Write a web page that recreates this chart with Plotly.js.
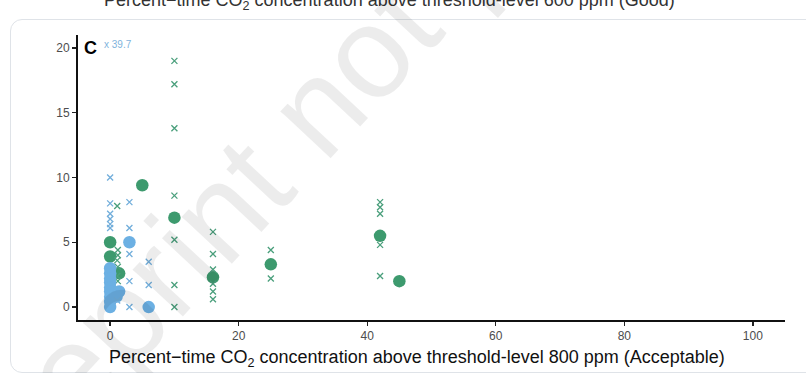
<!DOCTYPE html>
<html>
<head>
<meta charset="utf-8">
<script src="https://cdn.plot.ly/plotly-3.0.1.min.js"></script>
<style>
  html, body { margin: 0; padding: 0; background: #ffffff; }
  #wrap { position: relative; width: 806px; height: 373px; overflow: hidden; }
  #card { position: absolute; left: 10px; top: 19px; width: 830px; height: 352px;
          border: 1px solid #dfe3e8; border-radius: 12px; background: #ffffff; }
  #chart { position: absolute; left: 0; top: 0; width: 806px; height: 373px; }
</style>
</head>
<body>
<div id="wrap">
  <div id="card"></div>
  <div id="chart"></div>
</div>
<script>
// ---- data ----
// green crosses
const greenCrossX = [10, 10, 10, 10, 10, 10, 10,
                     16, 16, 16, 16, 16, 16,
                     25, 25,
                     42, 42, 42, 42, 42,
                     1.1, 1.2, 1.2, 1.1, 1.2, 1.1, 1.2, 1.0];
const greenCrossY = [19.0, 17.2, 13.8, 8.6, 5.2, 1.7, 0.0,
                     5.8, 4.1, 2.9, 1.8, 1.2, 0.6,
                     4.4, 2.2,
                     8.1, 7.7, 7.2, 4.8, 2.4,
                     7.8, 4.4, 4.0, 3.6, 3.1, 2.4, 2.0, 0.9];
// blue crosses
const blueCrossX = [0, 0, 0, 0, 0, 0,
                    1.1,
                    3, 3, 3, 3, 3,
                    6, 6];
const blueCrossY = [10.0, 8.0, 7.2, 6.8, 6.4, 6.1,
                    0.5,
                    8.1, 6.1, 4.1, 2.0, 0.0,
                    3.5, 1.7];
// green circles
const greenDotX = [0, 0, 1.4, 5, 10, 16, 25, 42, 45];
const greenDotY = [5.0, 3.9, 2.6, 9.4, 6.9, 2.3, 3.3, 5.5, 2.0];
// blue circles
const blueDotX = [0, 0, 0, 0, 0, 0, 0, 0, 0, 1.4, 1.0, 3, 6];
const blueDotY = [3.0, 2.6, 2.2, 1.9, 1.5, 1.2, 0.8, 0.4, 0.0, 1.2, 0.8, 5.0, 0.0];
// off-scale value noted at top
const offscaleX = 0;
const offscaleValue = 39.7;

const xTicks = [0, 20, 40, 60, 80, 100];
const yTicks = [0, 5, 10, 15, 20];

// ---- styling ----
const GREEN = '#3d9a6e';
const GREEN_X = '#4a9f7c';
const BLUE = '#6cb0e3';
const BLUE_X = '#72aedb';
const FONT = 'Liberation Sans, Arial, sans-serif';

const traces = [
  { x: greenDotX, y: greenDotY, type: 'scatter', mode: 'markers', name: 'green dots',
    marker: { symbol: 'circle', size: 12.5, color: GREEN, line: { width: 0 } } },
  { x: greenCrossX, y: greenCrossY, type: 'scatter', mode: 'markers', name: 'green crosses',
    marker: { symbol: 'x-thin', size: 6, color: GREEN_X, line: { width: 1.3, color: GREEN_X } } },
  { x: blueDotX, y: blueDotY, type: 'scatter', mode: 'markers', name: 'blue dots',
    marker: { symbol: 'circle', size: 12.5, color: BLUE, line: { width: 0 } } },
  { x: blueCrossX, y: blueCrossY, type: 'scatter', mode: 'markers', name: 'blue crosses',
    marker: { symbol: 'x-thin', size: 6, color: BLUE_X, line: { width: 1.3, color: BLUE_X } } }
];

const tickFont = { family: FONT, size: 12, color: '#4d4d4d' };

const layout = {
  width: 806, height: 373,
  margin: { l: 78, r: 21, t: 35, b: 53 },
  paper_bgcolor: 'rgba(0,0,0,0)',
  plot_bgcolor: 'rgba(0,0,0,0)',
  showlegend: false,
  xaxis: {
    range: [-5, 105], tickvals: xTicks, ticktext: xTicks.map(String),
    showgrid: false, zeroline: false, showline: true, linecolor: '#111', linewidth: 2,
    ticks: 'outside', ticklen: 4, tickcolor: '#222', tickwidth: 1.3,
    tickfont: tickFont, fixedrange: true
  },
  yaxis: {
    range: [-1, 21], tickvals: yTicks, ticktext: yTicks.map(String),
    showgrid: false, zeroline: false, showline: true, linecolor: '#111', linewidth: 2,
    ticks: 'outside', ticklen: 4, tickcolor: '#222', tickwidth: 1.3,
    tickfont: tickFont, fixedrange: true
  },
  annotations: [
    { text: 'Percent\u2212time CO<sub>2</sub> concentration above threshold-level 800 ppm (Acceptable)',
      xref: 'paper', yref: 'paper', x: 0.48, y: -0.135, xanchor: 'center', yanchor: 'middle',
      showarrow: false, font: { family: FONT, size: 18, color: '#111' } },
    { text: 'Percent\u2212time CO<sub>2</sub> concentration above threshold-level 600 ppm (Good)',
      xref: 'paper', yref: 'paper', x: 0.441, y: 1.069, xanchor: 'center', yanchor: 'bottom',
      showarrow: false, font: { family: FONT, size: 18, color: '#333' } },
    { text: '<b>C</b>', xref: 'paper', yref: 'paper', x: 0.006, y: 0.954,
      xanchor: 'left', yanchor: 'middle', showarrow: false,
      font: { family: FONT, size: 18, color: '#000' } },
    { text: 'x ' + offscaleValue, xref: 'x', yref: 'y', x: offscaleX - 1.2, y: 20.3,
      xanchor: 'left', yanchor: 'middle', showarrow: false,
      font: { family: FONT, size: 10, color: '#7fb3dc' } },
    { text: 'Preprint not peer reviewed', xref: 'paper', yref: 'paper', x: 0.563, y: 1.348,
      xanchor: 'center', yanchor: 'middle', showarrow: false, textangle: -47,
      font: { family: FONT, size: 130, color: 'rgba(0,0,0,0.075)' } }
  ]
};

Plotly.newPlot('chart', traces, layout, { displayModeBar: false, staticPlot: true });
</script>
</body>
</html>
